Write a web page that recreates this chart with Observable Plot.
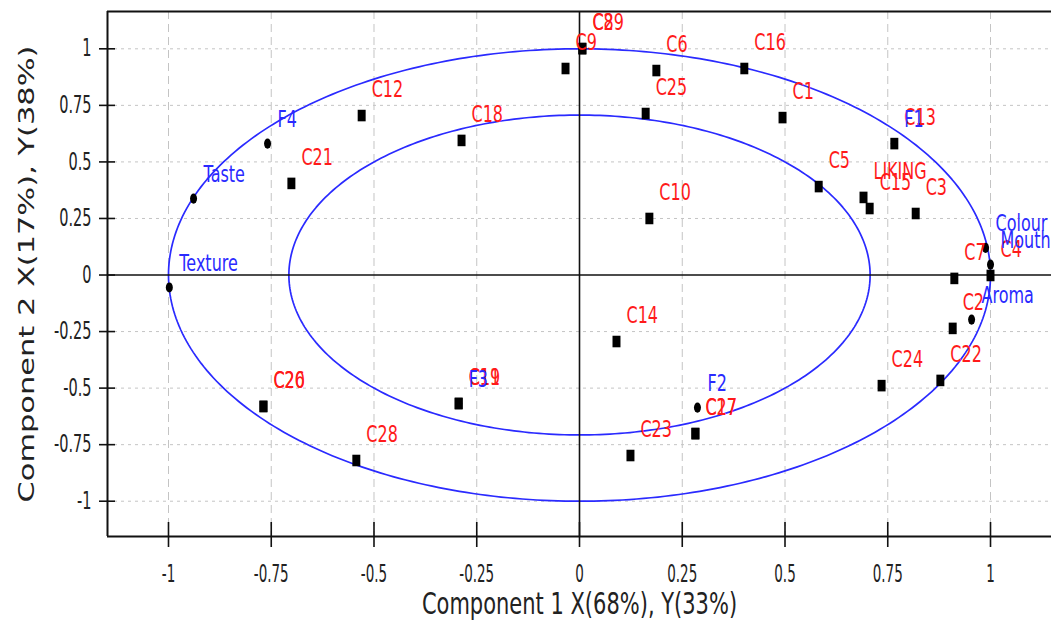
<!DOCTYPE html>
<html><head><meta charset="utf-8">
<script src="https://cdn.jsdelivr.net/npm/d3@7"></script>
<script src="https://cdn.jsdelivr.net/npm/@observablehq/plot@0.6"></script>
<style>body{margin:0;background:#fff;} svg{display:block;}</style>
</head><body><div id="chart"></div>
<script>
const xTicks = [-1, -0.75, -0.5, -0.25, 0, 0.25, 0.5, 0.75, 1];
const yTicks = [-1, -0.75, -0.5, -0.25, 0, 0.25, 0.5, 0.75, 1];
const xTitle = "Component 1 X(68%), Y(33%)";
const yTitle = "Component 2 X(17%), Y(38%)";

// objects (black squares, red labels)
const objectNames = ["C1","C2","C3","C4","C5","C6","C7","C8","C9","C10","C11","C12","C13","C14","C15","C16","C17","C18","C19","C20","C21","C22","C23","C24","C25","C26","C27","C28","C29","LIKING"];
const objectX = [0.494,0.908,0.818,1.000,0.582,0.187,0.912,0.007,-0.034,0.170,-0.294,-0.530,0.766,0.090,0.706,0.401,0.282,-0.287,-0.294,-0.769,-0.701,0.878,0.124,0.735,0.161,-0.769,0.282,-0.543,0.007,0.691];
const objectY = [0.696,-0.236,0.272,-0.002,0.391,0.904,-0.015,1.001,0.913,0.250,-0.568,0.705,0.581,-0.294,0.294,0.913,-0.701,0.595,-0.568,-0.581,0.405,-0.466,-0.798,-0.489,0.714,-0.581,-0.701,-0.820,1.001,0.343];

// variables (black circles, blue labels)
const variableNames = ["F1","F2","F3","F4","Taste","Texture","Colour","Mouth","Aroma"];
const variableX = [0.766,0.287,-0.294,-0.759,-0.939,-0.998,0.988,1.000,0.954];
const variableY = [0.581,-0.586,-0.568,0.581,0.338,-0.055,0.120,0.046,-0.197];

// correlation circles: 100% and 50% explained variance
const circleRadii = [1, 0.7071];

const xDomain = [-1.1484, 1.1484];
const yDomain = [-1.156, 1.165];

const objects = objectNames.map((n, i) => ({name: n, x: objectX[i], y: objectY[i]}));
const variables = variableNames.map((n, i) => ({name: n, x: variableX[i], y: variableY[i]}));
const circles = circleRadii.flatMap((r, k) => d3.range(0, 361, 1).map(a => ({k, x: r * Math.cos(a * Math.PI / 180), y: r * Math.sin(a * Math.PI / 180)})));

const chart = Plot.plot({
  width: 1051,
  height: 620,
  marginLeft: 107,
  marginRight: 0,
  marginTop: 11,
  marginBottom: 84,
  style: {fontFamily: "DejaVu Sans", background: "#fff", overflow: "visible"},
  x: {domain: xDomain, axis: null},
  y: {domain: yDomain, axis: null},
  marks: [
    Plot.ruleX(xTicks.filter(d => d !== 0), {stroke: "#c4c4c4", strokeDasharray: "8,5"}),
    Plot.ruleY(yTicks.filter(d => d !== 0), {stroke: "#c4c4c4", strokeDasharray: "3,4"}),
    Plot.line(circles, {x: "x", y: "y", z: "k", stroke: "#2a2aff", strokeWidth: 1.7}),
    Plot.ruleX([0], {stroke: "#111", strokeWidth: 1.6}),
    Plot.ruleY([0], {stroke: "#111", strokeWidth: 1.6}),
    Plot.ruleX([xDomain[0]], {stroke: "#111", strokeWidth: 2}),
    Plot.ruleY([yDomain[0], yDomain[1]], {stroke: "#111", strokeWidth: 2}),
    Plot.axisX({ticks: xTicks, tickSize: 25, dy: -14, tickPadding: 17, tickFormat: d => String(d), fontSize: 15, fontFamily: "DejaVu Sans Condensed", fill: "#222", stroke: "#111", strokeWidth: 1.6, label: null}),
    Plot.axisY({ticks: yTicks, tickSize: 16, dx: 8, tickPadding: 8, tickFormat: d => String(d), fontSize: 14.5, fill: "#222", stroke: "#111", strokeWidth: 1.6, label: null}),
    Plot.text([xTitle], {frameAnchor: "bottom", textAnchor: "middle", dy: 56, lineAnchor: "top", fontSize: 21, fill: "#222"}),
    Plot.text([yTitle], {frameAnchor: "left", textAnchor: "middle", lineAnchor: "middle", dx: -80, rotate: -90, fontSize: 21, fill: "#222"}),
    Plot.dot(variables, {x: "x", y: "y", r: 3.5, fill: "#000", symbol: "circle"}),
    Plot.dot(objects, {x: "x", y: "y", r: 4.5, fill: "#000", symbol: "square"}),
    Plot.text(objects, {x: "x", y: "y", text: "name", textAnchor: "start", dx: 10, dy: -26, fontSize: 16, fill: "#ff1a1a"}),
    Plot.text(variables, {x: "x", y: "y", text: "name", textAnchor: "start", dx: 10, dy: -24, fontSize: 16, fill: "#2a2aff"})
  ]
});
document.getElementById("chart").appendChild(chart);

// the reference is vertically stretched: stretch glyphs and markers accordingly
const svg = d3.select(chart);
function stretchText(sel, k) {
  svg.selectAll(sel).each(function() {
    const t = this.getAttribute("transform") || "";
    this.setAttribute("transform", t + (t.includes("rotate") ? ` scale(${k},1)` : ` scale(1,${k})`));
  });
}
stretchText('g[aria-label="text"] text', 1.45);
stretchText('g[aria-label="x-axis tick label"] text', 1.6);
stretchText('g[aria-label="y-axis tick label"] text', 1.65);
svg.selectAll('g[aria-label="dot"] path').each(function() {
  const t = this.getAttribute("transform") || "";
  this.setAttribute("transform", t + " scale(1,1.45)");
});
svg.selectAll('g[aria-label="dot"] circle').each(function() {
  const cx = this.getAttribute("cx"), cy = this.getAttribute("cy");
  this.setAttribute("cx", 0); this.setAttribute("cy", 0);
  this.setAttribute("transform", `translate(${cx},${cy}) scale(1,1.45)`);
});
</script></body></html>
